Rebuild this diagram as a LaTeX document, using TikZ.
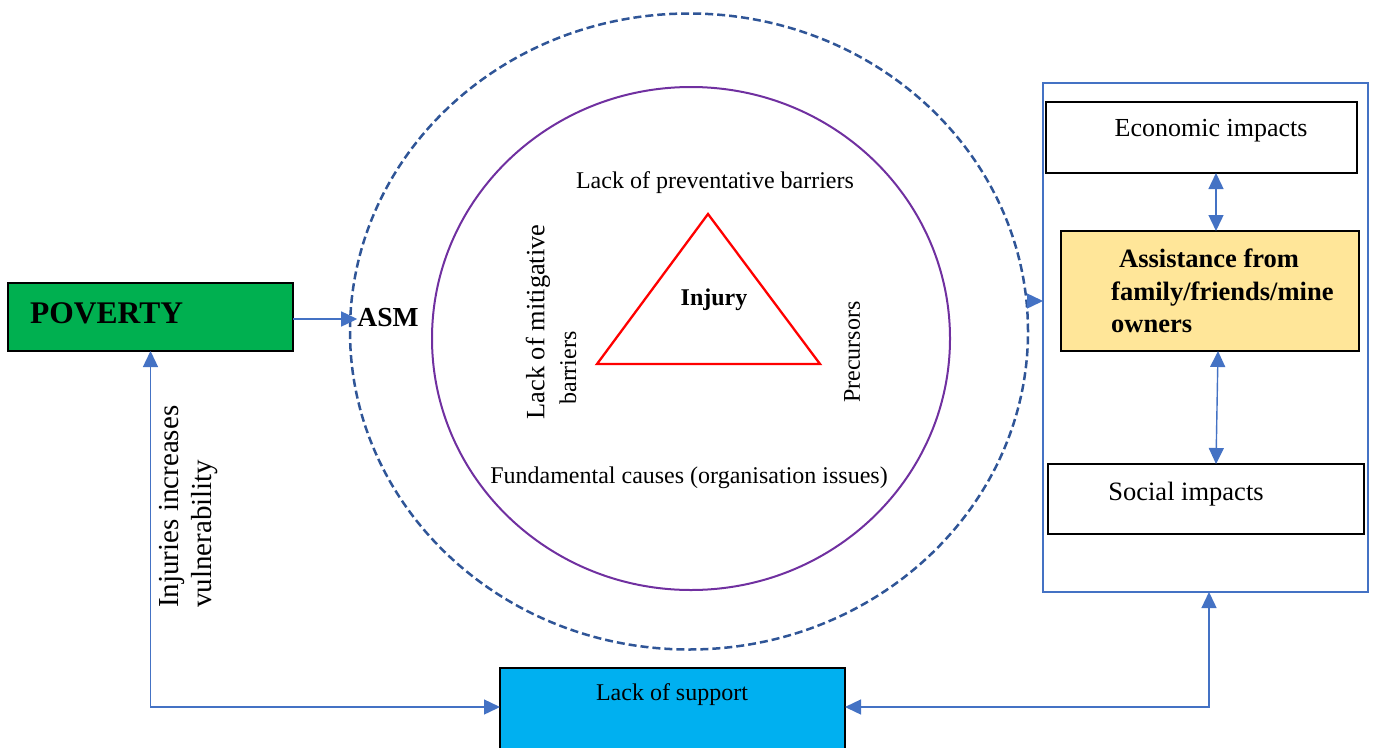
\documentclass[tikz,border=0pt]{standalone}
\usepackage{fontspec}
\setmainfont{Liberation Serif}
\usetikzlibrary{arrows.meta,shapes.geometric}
\definecolor{pgreen}{HTML}{00B050}
\definecolor{pcyan}{HTML}{00B0F0}
\definecolor{pyellow}{HTML}{FFE699}
\definecolor{parrow}{HTML}{4472C4}
\definecolor{pdash}{HTML}{2F5597}
\definecolor{ppurple}{HTML}{7030A0}
\tikzset{
  box/.style={draw=black, line width=1.3pt, inner sep=0pt, outer sep=0pt},
  conn/.style={draw=parrow, line width=1.4pt},
  tip/.style={-{Triangle[length=16pt,width=15pt]}},
  dtip/.style={{Triangle[length=16pt,width=15pt]}-{Triangle[length=16pt,width=15pt]}},
  txt/.style={inner sep=0pt, font=\fontsize{24}{28}\selectfont},
  btxt/.style={inner sep=0pt, font=\bfseries\fontsize{24}{28}\selectfont},
}
\begin{document}
\begin{tikzpicture}[x=1pt,y=-1pt]
\useasboundingbox (0,0) rectangle (1376,747);
% circles
\node[ellipse, draw=pdash, line width=2.5pt, dash pattern=on 8pt off 4pt, minimum width=678pt, minimum height=636pt, inner sep=0pt] (outer) at (689,331.5) {};
\node[ellipse, draw=ppurple, line width=2pt, minimum width=518pt, minimum height=503pt, inner sep=0pt] (inner) at (691,338.5) {};
% triangle
\draw[red, line width=2.3pt] (708,214) -- (597,364) -- (820,364) -- cycle;
\node[btxt] (injury) at (714,300) {Injury};
\node[txt] (prevent) at (715,183) {Lack of preventative barriers};
\node[txt, rotate=90, font=\fontsize{26.4}{30}\selectfont] (mitig) at (538,322) {Lack of mitigative};
\node[txt, rotate=90] (barr) at (568,368) {barriers};
\node[txt, rotate=90] (prec) at (852,352) {Precursors};
\node[txt] (fund) at (689,478) {Fundamental causes (organisation issues)};
% poverty
\node[box, fill=pgreen, minimum width=285pt, minimum height=68pt] (pov) at (150.5,317) {};
\node[btxt, anchor=west, font=\bfseries\fontsize{31.5}{34}\selectfont] (povtxt) at (30,313) {POVERTY};
\node[btxt, font=\bfseries\fontsize{27.5}{30}\selectfont] (asm) at (388,318) {ASM};
\draw[conn, tip] (pov.east |- 0,319) -- (asm.west |- 0,319);
% right panel
\node[draw=parrow, line width=1.2pt, minimum width=325pt, minimum height=509pt, inner sep=0pt, outer sep=0pt] (panel) at (1205.5,337.5) {};
\coordinate (cright) at (1030,301);
\draw[conn, tip] (cright) -- (panel.west |- 0,301);
\node[box, fill=white, minimum width=311pt, minimum height=71pt] (econ) at (1201.5,137.5) {};
\node[txt, font=\fontsize{26}{28}\selectfont] (econtxt) at (1211,131) {Economic impacts};
\node[box, fill=pyellow, minimum width=298pt, minimum height=120pt] (assist) at (1210,291) {};
\node[inner sep=0pt, anchor=west, align=left, font=\bfseries\fontsize{26.5}{32.5}\selectfont] (assisttxt) at (1111,291) {\hspace{8pt}Assistance from\\family/friends/mine\\owners};
\node[box, fill=white, minimum width=316pt, minimum height=70pt] (social) at (1206,499) {};
\node[txt, font=\fontsize{26.5}{28}\selectfont] (socialtxt) at (1186,494) {Social impacts};
\draw[conn, dtip] (econ.south -| 1216,0) -- (assist.north -| 1216,0);
\draw[conn, dtip] (assist.south -| 1218,0) -- (social.north -| 1216,0);
% lack of support
\node[box, fill=pcyan, minimum width=345pt, minimum height=82pt] (support) at (672.5,709) {};
\node[txt] (supporttxt) at (672,695) {Lack of support};
\draw[conn, dtip] (pov.south) |- (support.west |- 0,707);
\draw[conn, dtip] (support.east |- 0,707) -| (panel.south -| 1209,0);
% vulnerability label
\node[inner sep=0pt, rotate=90, anchor=west, align=left, font=\fontsize{29}{33}\selectfont] (vuln) at (189,608) {Injuries increases\\vulnerability};
\end{tikzpicture}
\end{document}
